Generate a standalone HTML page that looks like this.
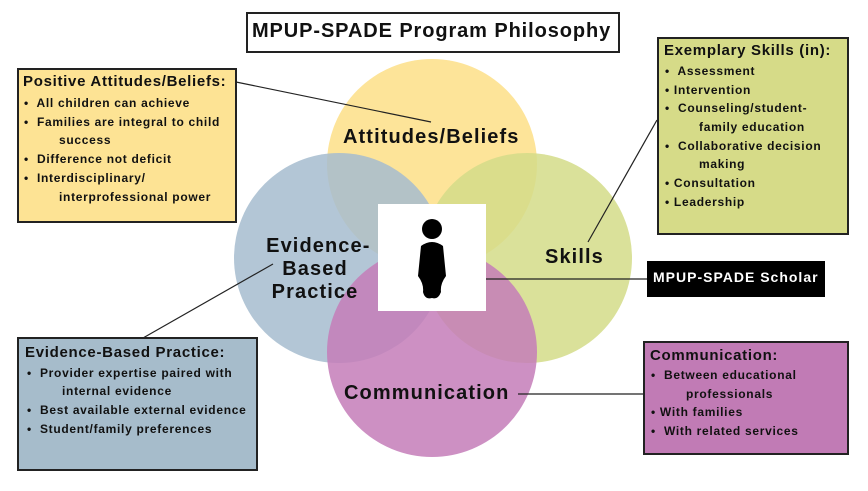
<!DOCTYPE html>
<html><head><style>
body{margin:0;width:868px;height:491px;background:#fff;position:relative;overflow:hidden;font-family:"Liberation Sans",sans-serif;font-weight:bold;}
.t{position:absolute;white-space:nowrap;color:#111;}
.box{position:absolute;border:2px solid #222;box-sizing:border-box;}
.s{font-size:12px;letter-spacing:0.7px;}
.h{font-size:15px;letter-spacing:0.7px;}
.c{font-size:20px;letter-spacing:1.1px;}
</style></head><body>
<svg width="868" height="491" style="position:absolute;left:0;top:0">
<circle cx="432" cy="164" r="105" fill="#fde394" fill-opacity="0.95"/>
<circle cx="339" cy="258" r="105" fill="#a6bccf" fill-opacity="0.85"/>
<circle cx="527" cy="258" r="105" fill="#d4dc88" fill-opacity="0.85"/>
<circle cx="432" cy="352" r="105" fill="#c47db8" fill-opacity="0.85"/>
<rect x="378" y="204" width="108" height="107" fill="#fff"/>
<circle cx="432" cy="229" r="10" fill="#000"/>
<path d="M421 246 Q432 238 443 246 L446 276 Q440 284 441 292 Q438 300 432 298 Q425 300 423 292 Q424 284 418 276 Z" fill="#000"/>
<g stroke="#222" stroke-width="1.2">
<line x1="236" y1="82" x2="431" y2="122"/>
<line x1="588" y1="242" x2="657" y2="120"/>
<line x1="273" y1="264" x2="143" y2="338"/>
<line x1="486" y1="279" x2="647" y2="279"/>
<line x1="518" y1="394" x2="643" y2="394"/>
</g>
</svg>
<div class="box" style="left:246px;top:12px;width:374px;height:41px;background:#fff"></div>
<div class="t" style="left:252px;top:20px;font-size:20px;letter-spacing:0.9px">MPUP-SPADE Program Philosophy</div>

<div class="t c" style="left:343px;top:126px">Attitudes/Beliefs</div>
<div class="t c" style="left:238px;top:235px;width:154px;text-align:center;line-height:23px">&nbsp;Evidence-<br>Based<br>Practice</div>
<div class="t c" style="left:545px;top:246px">Skills</div>
<div class="t c" style="left:344px;top:382px">Communication</div>

<div class="box" style="left:17px;top:68px;width:220px;height:155px;background:#fde394"></div>
<div class="t h" style="left:23px;top:73px">Positive Attitudes/Beliefs:</div>
<div class="t s" style="left:24px;top:96px">•&nbsp; All children can achieve</div>
<div class="t s" style="left:24px;top:115px">•&nbsp; Families are integral to child</div>
<div class="t s" style="left:59px;top:133px">success</div>
<div class="t s" style="left:24px;top:152px">•&nbsp; Difference not deficit</div>
<div class="t s" style="left:24px;top:171px">•&nbsp; Interdisciplinary/</div>
<div class="t s" style="left:59px;top:190px">interprofessional power</div>

<div class="box" style="left:657px;top:37px;width:192px;height:198px;background:#d6db88"></div>
<div class="t h" style="left:664px;top:42px">Exemplary Skills (in):</div>
<div class="t s" style="left:665px;top:64px">•&nbsp; Assessment</div>
<div class="t s" style="left:665px;top:83px">• Intervention</div>
<div class="t s" style="left:665px;top:101px">•&nbsp; Counseling/student-</div>
<div class="t s" style="left:699px;top:120px">family education</div>
<div class="t s" style="left:665px;top:139px">•&nbsp; Collaborative decision</div>
<div class="t s" style="left:699px;top:157px">making</div>
<div class="t s" style="left:665px;top:176px">• Consultation</div>
<div class="t s" style="left:665px;top:195px">• Leadership</div>

<div style="position:absolute;left:647px;top:261px;width:178px;height:36px;background:#000"></div>
<div class="t" style="left:653px;top:269px;font-size:14px;letter-spacing:1px;color:#fff">MPUP-SPADE Scholar</div>

<div class="box" style="left:17px;top:337px;width:241px;height:134px;background:#a6bccb"></div>
<div class="t h" style="left:25px;top:344px">Evidence-Based Practice:</div>
<div class="t s" style="left:27px;top:366px">•&nbsp; Provider expertise paired with</div>
<div class="t s" style="left:62px;top:384px">internal evidence</div>
<div class="t s" style="left:27px;top:403px">•&nbsp; Best available external evidence</div>
<div class="t s" style="left:27px;top:422px">•&nbsp; Student/family preferences</div>

<div class="box" style="left:643px;top:341px;width:206px;height:114px;background:#c17bb5"></div>
<div class="t h" style="left:650px;top:347px">Communication:</div>
<div class="t s" style="left:651px;top:368px">•&nbsp; Between educational</div>
<div class="t s" style="left:686px;top:387px">professionals</div>
<div class="t s" style="left:651px;top:405px">• With families</div>
<div class="t s" style="left:651px;top:424px">•&nbsp; With related services</div>
</body></html>
